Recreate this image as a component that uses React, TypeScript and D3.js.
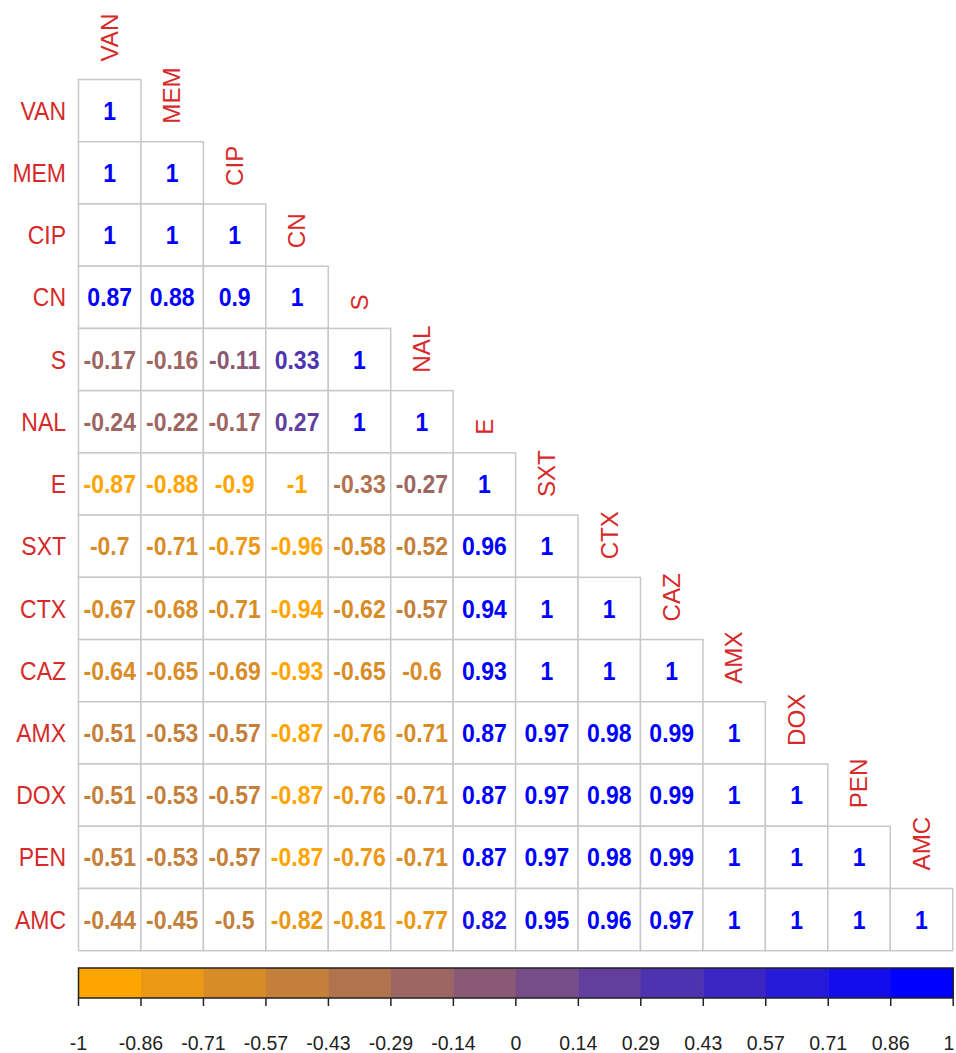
import React from 'react';
import * as d3 from 'd3';

// antibiotic names, in matrix order
const drugs = ['VAN', 'MEM', 'CIP', 'CN', 'S', 'NAL', 'E', 'SXT', 'CTX', 'CAZ', 'AMX', 'DOX', 'PEN', 'AMC'];

// lower triangle of the correlation matrix, one row per drug
const rowVAN = [1];
const rowMEM = [1, 1];
const rowCIP = [1, 1, 1];
const rowCN = [0.87, 0.88, 0.9, 1];
const rowS = [-0.17, -0.16, -0.11, 0.33, 1];
const rowNAL = [-0.24, -0.22, -0.17, 0.27, 1, 1];
const rowE = [-0.87, -0.88, -0.9, -1, -0.33, -0.27, 1];
const rowSXT = [-0.7, -0.71, -0.75, -0.96, -0.58, -0.52, 0.96, 1];
const rowCTX = [-0.67, -0.68, -0.71, -0.94, -0.62, -0.57, 0.94, 1, 1];
const rowCAZ = [-0.64, -0.65, -0.69, -0.93, -0.65, -0.6, 0.93, 1, 1, 1];
const rowAMX = [-0.51, -0.53, -0.57, -0.87, -0.76, -0.71, 0.87, 0.97, 0.98, 0.99, 1];
const rowDOX = [-0.51, -0.53, -0.57, -0.87, -0.76, -0.71, 0.87, 0.97, 0.98, 0.99, 1, 1];
const rowPEN = [-0.51, -0.53, -0.57, -0.87, -0.76, -0.71, 0.87, 0.97, 0.98, 0.99, 1, 1, 1];
const rowAMC = [-0.44, -0.45, -0.5, -0.82, -0.81, -0.77, 0.82, 0.95, 0.96, 0.97, 1, 1, 1, 1];

const matrix = [rowVAN, rowMEM, rowCIP, rowCN, rowS, rowNAL, rowE, rowSXT, rowCTX, rowCAZ, rowAMX, rowDOX, rowPEN, rowAMC];

// colour legend tick labels
const legendTicks = ['-1', '-0.86', '-0.71', '-0.57', '-0.43', '-0.29', '-0.14', '0', '0.14', '0.29', '0.43', '0.57', '0.71', '0.86', '1'];

const nBins = 14;
const grid = { left: 78.5, top: 79.5, right: 952.7, bottom: 950.7 };
const legend = { top: 968, height: 30 };
const font = "'Liberation Sans', Arial, sans-serif";
const labelColor = '#d62a2a';
// the source glyphs look a little taller than wide
const stretch = 'scale(1,1.1)';

const App = () => {
    const xScale = d3.scaleBand<string>().domain(drugs).range([grid.left, grid.right]);
    const yScale = d3.scaleBand<string>().domain(drugs).range([grid.top, grid.bottom]);
    const cw = xScale.bandwidth();
    const ch = yScale.bandwidth();

    // 14 discrete colours from orange to blue
    const interp = d3.interpolateRgb('#FFA500', '#0000FF');
    const palette = d3.range(nBins).map((i) => interp(i / (nBins - 1)));
    const binScale = d3.scaleQuantize<string>().domain([-1, 1]).range(palette);

    const legendX = d3.scaleLinear().domain([0, nBins]).range([grid.left, grid.right + 0.5]);

    return (
        <svg
            width={956}
            height={1053}
            style={{ position: 'absolute', left: 0, top: 0, background: '#fff' }}
        >
            {/* cells */}
            <g>
                {matrix.map((row, i) => row.map((v, j) => (
                    <rect
                        key={`c-${i}-${j}`}
                        x={xScale(drugs[j])}
                        y={yScale(drugs[i])}
                        width={cw}
                        height={ch}
                        fill="#fff"
                        stroke="#c8c8c8"
                        strokeWidth={1.5}
                    />
                )))}
            </g>
            {/* correlation numbers */}
            <g fontFamily={font} fontWeight="bold" fontSize={23} textAnchor="middle">
                {matrix.map((row, i) => row.map((v, j) => (
                    <text
                        key={`t-${i}-${j}`}
                        transform={`translate(${(xScale(drugs[j]) as number) + cw / 2},${(yScale(drugs[i]) as number) + ch / 2}) ${stretch}`}
                        dy="0.36em"
                        fill={binScale(v)}
                    >
                        {String(v)}
                    </text>
                )))}
            </g>
            {/* row labels */}
            <g fontFamily={font} fontSize={23} fill={labelColor} textAnchor="end">
                {drugs.map((d) => (
                    <text
                        key={`r-${d}`}
                        transform={`translate(${grid.left - 12.5},${(yScale(d) as number) + ch / 2}) ${stretch}`}
                        dy="0.36em"
                    >
                        {d}
                    </text>
                ))}
            </g>
            {/* column labels above the diagonal */}
            <g fontFamily={font} fontSize={23} fill={labelColor} textAnchor="start">
                {drugs.map((d) => {
                    const cx = (xScale(d) as number) + cw / 2;
                    const ty = (yScale(d) as number) - 18;
                    return (
                        <text key={`col-${d}`} transform={`translate(${cx},${ty}) rotate(-90) scale(1.05,1)`} dy="0.36em">
                            {d}
                        </text>
                    );
                })}
            </g>
            {/* colour legend */}
            <g>
                {palette.map((c, i) => (
                    <rect
                        key={`l-${i}`}
                        x={legendX(i)}
                        y={legend.top}
                        width={legendX(i + 1) - legendX(i) + 0.5}
                        height={legend.height}
                        fill={c}
                    />
                ))}
                <rect
                    x={legendX(0)}
                    y={legend.top}
                    width={legendX(nBins) - legendX(0)}
                    height={legend.height}
                    fill="none"
                    stroke="#222"
                    strokeWidth={1.5}
                />
                {legendTicks.map((t, i) => (
                    <g key={`tk-${t}`}>
                        <line
                            x1={legendX(i)}
                            x2={legendX(i)}
                            y1={legend.top + legend.height}
                            y2={legend.top + legend.height + 8}
                            stroke="#222"
                            strokeWidth={1.5}
                        />
                        <text
                            transform={`translate(${Math.min(legendX(i), 949)},1050) scale(1,1.08)`}
                            fontFamily={font}
                            fontSize={19.5}
                            textAnchor="middle"
                            fill="#222"
                        >
                            {t}
                        </text>
                    </g>
                ))}
            </g>
        </svg>
    );
};

export default App;
